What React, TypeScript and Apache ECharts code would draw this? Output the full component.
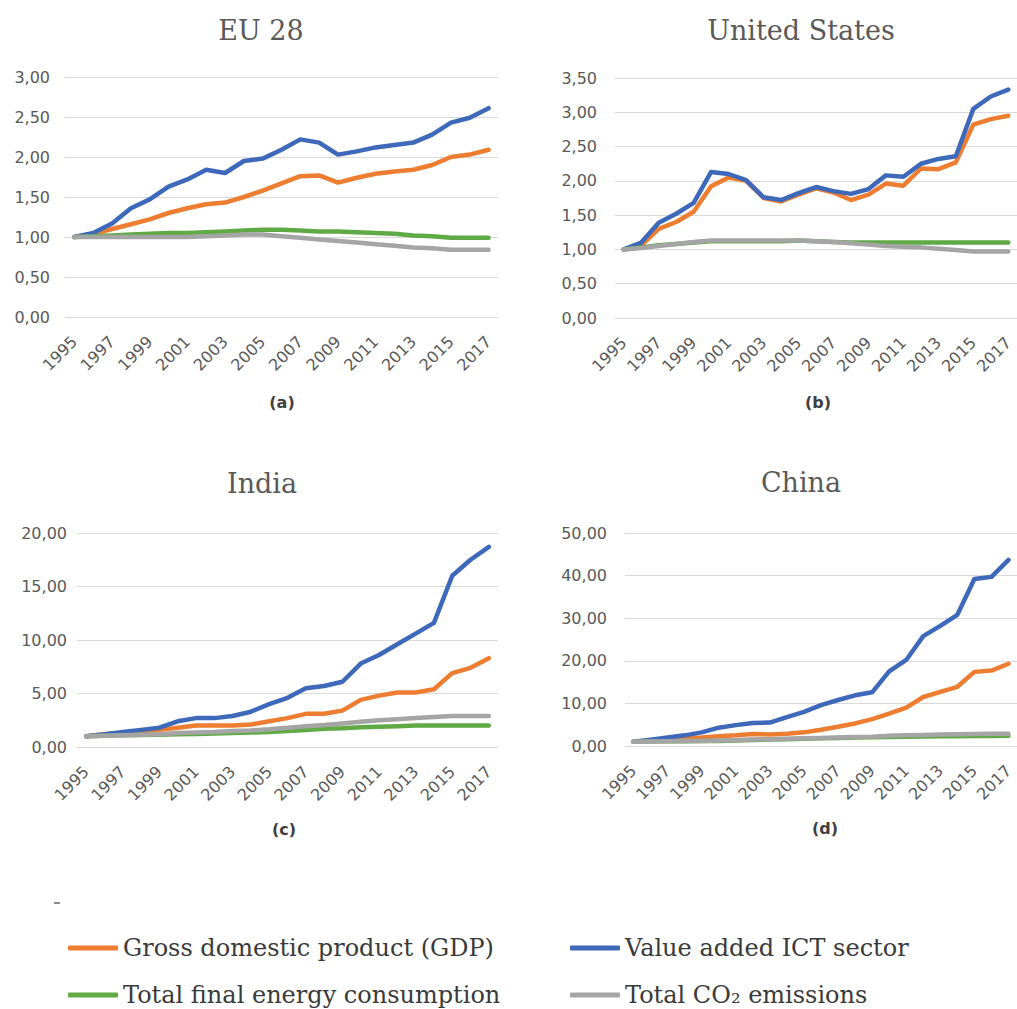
import React, { useEffect, useRef } from "react";
import * as echarts from "echarts";

const years = ["1995","1996","1997","1998","1999","2000","2001","2002","2003","2004","2005","2006","2007","2008","2009","2010","2011","2012","2013","2014","2015","2016","2017"];

const seriesNames = ["Gross domestic product (GDP)", "Value added ICT sector", "Total final energy consumption", "Total CO\u2082 emissions"];
const seriesColors = ["#ED7D31", "#3E69BA", "#5FAA45", "#A5A5A5"];

const panelTitles = ["EU 28", "United States", "India", "China"];
const panelCaptions = ["(a)", "(b)", "(c)", "(d)"];

// EU 28
const euGdp = [1.00,1.04,1.10,1.16,1.22,1.30,1.36,1.41,1.43,1.50,1.58,1.67,1.76,1.77,1.68,1.74,1.79,1.82,1.84,1.90,2.00,2.03,2.09];
const euIct = [1.00,1.05,1.17,1.36,1.47,1.63,1.72,1.84,1.80,1.95,1.98,2.09,2.22,2.18,2.03,2.07,2.12,2.15,2.18,2.28,2.43,2.49,2.61];
const euEnergy = [1.00,1.01,1.02,1.03,1.04,1.05,1.05,1.06,1.07,1.08,1.09,1.09,1.08,1.07,1.07,1.06,1.05,1.04,1.02,1.01,0.99,0.99,0.99];
const euCo2 = [1.00,1.00,1.00,1.00,1.00,1.00,1.00,1.01,1.02,1.03,1.03,1.01,0.99,0.97,0.95,0.93,0.91,0.89,0.87,0.86,0.84,0.84,0.84];

// United States
const usGdp = [1.00,1.06,1.30,1.40,1.55,1.92,2.05,2.00,1.75,1.70,1.80,1.89,1.83,1.72,1.80,1.96,1.93,2.18,2.17,2.27,2.82,2.90,2.95];
const usIct = [1.00,1.10,1.39,1.52,1.68,2.13,2.10,2.01,1.76,1.72,1.82,1.91,1.85,1.81,1.88,2.08,2.06,2.25,2.32,2.36,3.05,3.23,3.33];
const usEnergy = [1.00,1.03,1.06,1.08,1.10,1.12,1.12,1.12,1.12,1.12,1.13,1.12,1.11,1.10,1.10,1.10,1.10,1.10,1.10,1.10,1.10,1.10,1.10];
const usCo2 = [1.00,1.02,1.05,1.08,1.11,1.13,1.13,1.13,1.13,1.13,1.13,1.12,1.11,1.09,1.07,1.05,1.04,1.03,1.01,0.99,0.97,0.97,0.97];

// India
const inGdp = [1.0,1.2,1.3,1.4,1.6,1.8,2.0,2.0,2.0,2.1,2.4,2.7,3.1,3.1,3.4,4.4,4.8,5.1,5.1,5.4,6.9,7.4,8.3];
const inIct = [1.0,1.2,1.4,1.6,1.8,2.4,2.7,2.7,2.9,3.3,4.0,4.6,5.5,5.7,6.1,7.8,8.6,9.6,10.6,11.6,16.0,17.5,18.7];
const inEnergy = [1.0,1.05,1.1,1.12,1.15,1.2,1.22,1.25,1.3,1.35,1.4,1.5,1.6,1.7,1.75,1.85,1.9,1.95,2.0,2.0,2.0,2.0,2.0];
const inCo2 = [1.0,1.05,1.1,1.15,1.2,1.3,1.35,1.4,1.5,1.55,1.65,1.8,1.95,2.05,2.2,2.35,2.5,2.6,2.7,2.8,2.9,2.9,2.9];

// China
const cnGdp = [1.0,1.3,1.6,1.9,2.0,2.3,2.5,2.8,2.7,2.9,3.2,3.8,4.5,5.3,6.3,7.6,9.0,11.5,12.7,13.9,17.4,17.7,19.3];
const cnIct = [1.0,1.5,2.0,2.5,3.2,4.3,4.9,5.4,5.5,6.8,8.0,9.6,10.8,11.9,12.6,17.5,20.2,25.8,28.2,30.8,39.2,39.7,43.7];
const cnEnergy = [1.0,1.05,1.1,1.1,1.15,1.2,1.3,1.4,1.5,1.6,1.7,1.8,1.9,2.0,2.05,2.1,2.2,2.25,2.3,2.3,2.35,2.35,2.4];
const cnCo2 = [1.0,1.05,1.1,1.15,1.2,1.3,1.4,1.5,1.6,1.7,1.8,1.9,2.0,2.1,2.2,2.4,2.5,2.6,2.7,2.75,2.8,2.85,2.9];

const yMax = [3, 3.5, 20, 50];
const yInterval = [0.5, 0.5, 5, 10];

const panelData = [
  [euGdp, euIct, euEnergy, euCo2],
  [usGdp, usIct, usEnergy, usCo2],
  [inGdp, inIct, inEnergy, inCo2],
  [cnGdp, cnIct, cnEnergy, cnCo2],
];

export default function App() {
  const ref = useRef<HTMLDivElement>(null);

  useEffect(() => {
    document.body.style.margin = "0";
    if (!ref.current) return;
    const chart = echarts.init(ref.current, undefined, { renderer: "svg" });

    const grids = [
      { left: 65, top: 77, width: 433, height: 240 },
      { left: 615, top: 78, width: 409, height: 240 },
      { left: 77, top: 533, width: 421, height: 214 },
      { left: 625, top: 533, width: 398, height: 213 },
    ];
    const yLabelMargins = [15, 18, 10, 18];

    const labelFont = { fontFamily: "DejaVu Sans", fontSize: 16, color: "#595959" };

    const xAxes = grids.map((_, i) => ({
      type: "category",
      gridIndex: i,
      data: years,
      boundaryGap: true,
      axisLine: { show: true, lineStyle: { color: "#d9d9d9", width: 1 } },
      axisTick: { show: false },
      axisLabel: { ...labelFont, interval: 1, rotate: 45, margin: 22 },
    }));

    const yAxes = grids.map((_, i) => ({
      type: "value",
      gridIndex: i,
      min: 0,
      max: yMax[i],
      interval: yInterval[i],
      axisLine: { show: false },
      axisTick: { show: false },
      splitLine: { show: true, lineStyle: { color: "#d9d9d9", width: 1 } },
      axisLabel: {
        ...labelFont,
        margin: yLabelMargins[i],
        formatter: (v: number) => v.toFixed(2).replace(".", ","),
      },
    }));

    const series: any[] = [];
    panelData.forEach((panel, gi) => {
      panel.forEach((vals, si) => {
        series.push({
          type: "line",
          name: seriesNames[si],
          xAxisIndex: gi,
          yAxisIndex: gi,
          data: vals,
          symbol: "none",
          smooth: false,
          lineStyle: { width: 4.5, color: seriesColors[si], cap: "round", join: "round" },
          itemStyle: { color: seriesColors[si] },
          z: 2 + si,
        });
      });
    });

    const titleCenters = [
      [261, 30],
      [801, 30],
      [262, 483],
      [801, 482],
    ];
    const captionCenters = [
      [282, 402],
      [818, 402],
      [284, 829],
      [825, 828],
    ];

    const graphics: any[] = [];
    panelTitles.forEach((t, i) => {
      graphics.push({
        type: "text",
        x: titleCenters[i][0],
        y: titleCenters[i][1],
        style: {
          text: t,
          font: '27px "DejaVu Serif"',
          fill: "#595959",
          textAlign: "center",
          textVerticalAlign: "middle",
          align: "center",
          verticalAlign: "middle",
        },
      });
    });
    panelCaptions.forEach((t, i) => {
      graphics.push({
        type: "text",
        x: captionCenters[i][0],
        y: captionCenters[i][1],
        style: {
          text: t,
          font: 'bold 16px "DejaVu Sans"',
          fill: "#404040",
          textAlign: "center",
          textVerticalAlign: "middle",
          align: "center",
          verticalAlign: "middle",
        },
      });
    });
    graphics.push({
      type: "rect",
      shape: { x: 54, y: 902, width: 6, height: 2 },
      style: { fill: "#8a8a8a" },
    });

    const legendText = { fontFamily: "DejaVu Serif", fontSize: 24, color: "#3a3a3a" };
    const legendPos = [
      [68, 936],
      [570, 936],
      [68, 983],
      [570, 983],
    ];
    const legends = seriesNames.map((name, i) => ({
      left: legendPos[i][0],
      top: legendPos[i][1],
      itemWidth: 50,
      itemHeight: 5,
      itemGap: 0,
      padding: 0,
      icon: "roundRect",
      textStyle: legendText,
      data: [name],
    }));

    chart.setOption({
      animation: false,
      backgroundColor: "#ffffff",
      grid: grids,
      xAxis: xAxes,
      yAxis: yAxes,
      series,
      legend: legends,
      graphic: graphics,
    });

    return () => {
      chart.dispose();
    };
  }, []);

  return <div ref={ref} style={{ width: 1017, height: 1009 }} />;
}
